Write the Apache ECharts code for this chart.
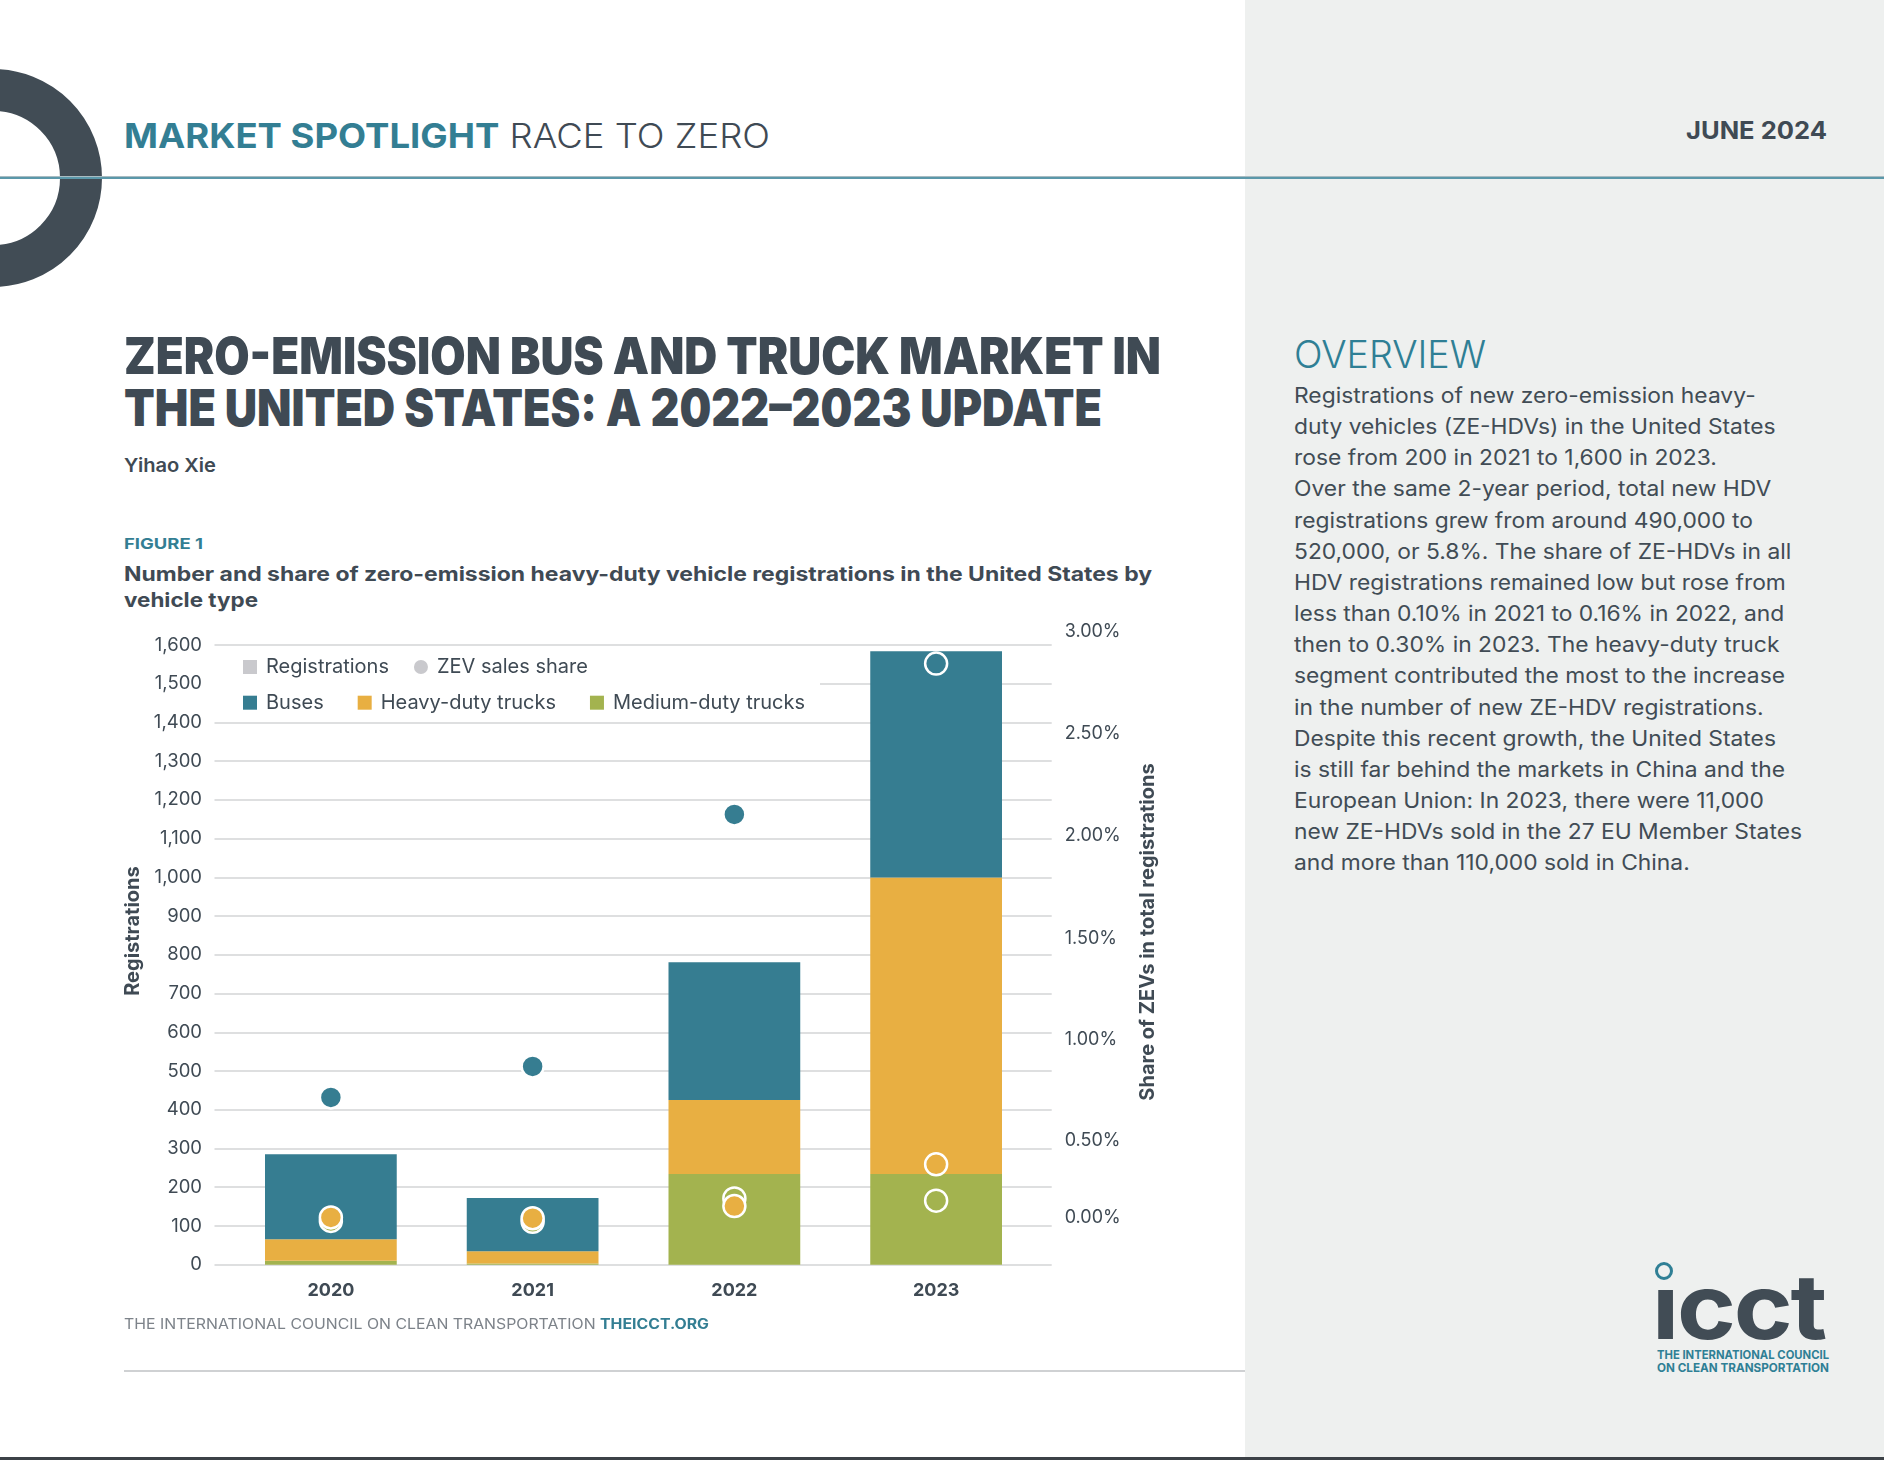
<!DOCTYPE html>
<html><head><meta charset="utf-8">
<script src="https://cdn.jsdelivr.net/npm/echarts/dist/echarts.min.js"></script>
<style>
html,body{margin:0;padding:0;}
body{width:1884px;height:1460px;position:relative;overflow:hidden;background:#fff;font-family:Inter,"Noto Sans",sans-serif;color:#3f4a54;}
.t{position:absolute;white-space:nowrap;transform-origin:left center;}
#panel{position:absolute;left:1245px;top:0;width:639px;height:1460px;background:#eef0ef;}
#ring{position:absolute;left:-116px;top:69px;width:218px;height:218px;box-sizing:border-box;border:42px solid #414c55;border-radius:50%;}
#rule{position:absolute;left:0;top:176px;width:1884px;height:1px;background:#a9bcc2;}
#rule2{position:absolute;left:0;top:177px;width:1884px;height:2px;background:#5b98aa;}
#chart{position:absolute;left:0;top:620px;width:1245px;height:700px;}
#bottomrule{position:absolute;left:124px;top:1370px;width:1121px;height:2px;background:#cfd1d3;}
#edge{position:absolute;left:0;top:1457px;width:1884px;height:3px;background:#3c4147;}
#para{position:absolute;left:1294px;top:380px;font-size:21px;line-height:31.16px;color:#414c55;transform-origin:left top;}
#para div{white-space:nowrap;}
#imask{position:absolute;left:1650px;top:1250px;width:28px;height:40px;background:#eef0ef;}
#idot{position:absolute;left:1655px;top:1262px;width:18px;height:18px;box-sizing:border-box;border:3.5px solid #2f7f95;border-radius:50%;}
</style></head>
<body>
<div id="panel"></div>
<div id="ring"></div>
<div id="rule"></div>
<div id="rule2"></div>

<div class="t" data-w="646" style="left:124px;top:116px;font-size:34px;line-height:40px;"><span style="font-weight:700;color:#337e93;">MARKET SPOTLIGHT</span><span style="font-weight:300;color:#3f4a54;"> RACE TO ZERO</span></div>
<div class="t" data-w="141" style="left:1686px;top:116px;font-size:24px;line-height:30px;font-weight:700;color:#3f4a54;">JUNE 2024</div>

<div class="t" data-w="1037" style="left:124px;top:326px;font-size:51px;line-height:60px;font-weight:900;color:#3f4a54;">ZERO-EMISSION BUS AND TRUCK MARKET IN</div>
<div class="t" data-w="978" style="left:124px;top:378px;font-size:51px;line-height:60px;font-weight:900;color:#3f4a54;">THE UNITED STATES: A 2022–2023 UPDATE</div>

<div class="t" data-w="92" style="left:124px;top:453px;font-size:19px;line-height:26px;font-weight:600;color:#3f4a54;">Yihao Xie</div>
<div class="t" data-w="79" style="left:124px;top:533px;font-size:15px;line-height:22px;font-weight:700;color:#337e93;">FIGURE 1</div>
<div class="t" data-w="1028" style="left:124px;top:561px;font-size:20px;line-height:26px;font-weight:700;color:#3f4a54;">Number and share of zero-emission heavy-duty vehicle registrations in the United States by</div>
<div class="t" data-w="134" style="left:124px;top:587px;font-size:20px;line-height:26px;font-weight:700;color:#3f4a54;">vehicle type</div>

<div id="chart"></div>

<div class="t" data-w="585" style="left:124px;top:1314px;font-size:14px;line-height:20px;"><span style="color:#7d838a;font-weight:400;">THE INTERNATIONAL COUNCIL ON CLEAN TRANSPORTATION </span><span style="color:#337e93;font-weight:700;">THEICCT.ORG</span></div>
<div id="bottomrule"></div>

<div class="t" data-w="192" style="left:1294px;top:331px;font-size:38px;line-height:46px;font-weight:300;color:#2f7f95;">OVERVIEW</div>
<div id="para">
<div>Registrations of new zero-emission heavy-</div>
<div>duty vehicles (ZE-HDVs) in the United States</div>
<div>rose from 200 in 2021 to 1,600 in 2023.</div>
<div>Over the same 2-year period, total new HDV</div>
<div>registrations grew from around 490,000 to</div>
<div>520,000, or 5.8%. The share of ZE-HDVs in all</div>
<div>HDV registrations remained low but rose from</div>
<div>less than 0.10% in 2021 to 0.16% in 2022, and</div>
<div>then to 0.30% in 2023. The heavy-duty truck</div>
<div>segment contributed the most to the increase</div>
<div>in the number of new ZE-HDV registrations.</div>
<div>Despite this recent growth, the United States</div>
<div>is still far behind the markets in China and the</div>
<div>European Union: In 2023, there were 11,000</div>
<div id="pline">new ZE-HDVs sold in the 27 EU Member States</div>
<div>and more than 110,000 sold in China.</div>
</div>

<div class="t" data-w="173" style="left:1652px;top:1262px;font-size:90px;line-height:90px;font-weight:700;color:#414c55;letter-spacing:-2px;">icct</div>
<div id="imask"></div>
<div id="idot"></div>
<div class="t" data-w="172" style="left:1657px;top:1347px;font-size:12px;line-height:16px;font-weight:700;color:#2f7f95;">THE INTERNATIONAL COUNCIL</div>
<div class="t" data-w="172" style="left:1657px;top:1360px;font-size:12px;line-height:16px;font-weight:700;color:#2f7f95;">ON CLEAN TRANSPORTATION</div>
<div id="edge"></div>

<script>
// ---- data ----
const years = ['2020', '2021', '2022', '2023'];
const buses = [219, 137, 356, 584];
const heavyTrucks = [56, 32, 191, 766];
const mediumTrucks = [10, 3, 234, 234];
const busShare = [0.81, 0.96, 2.18, 2.91];
const heavyShare = [0.229, 0.225, 0.284, 0.486];
const mediumShare = [0.212, 0.208, 0.321, 0.31];
const legendRow1 = ['Registrations', 'ZEV sales share'];
const legendRow2 = ['Buses', 'Heavy-duty trucks', 'Medium-duty trucks'];

// ---- fit text widths ----
document.querySelectorAll('[data-w]').forEach(el => {
  const w = el.getBoundingClientRect().width;
  el.style.transform = 'scaleX(' + (+el.dataset.w / w) + ')';
});
(function(){
  const p = document.getElementById('pline');
  const span = document.createElement('span'); span.textContent = p.textContent; p.textContent = ''; p.appendChild(span);
  const ww = span.getBoundingClientRect().width;
  document.getElementById('para').style.transform = 'scaleX(' + (508 / ww) + ')';
})();

// ---- chart ----
const FONT = 'Inter, "Noto Sans", sans-serif';
const INK = '#3f4a54';
const C_BUS = '#367d91', C_HDT = '#e8af42', C_MDT = '#a3b34f', C_REG = '#c9c9cd';
const rightLift = {'3.00': 13, '2.50': 14.5, '2.00': 16, '1.50': 16.5, '1.00': 19, '0.50': 21, '0.00': 47.5};
const liftKeys = Object.keys(rightLift);
const rich = {};
liftKeys.forEach((k, i) => { rich['r' + i] = {padding: [0, 0, 2 * rightLift[k], 0], fontSize: 18, color: INK, fontFamily: FONT}; });

const chart = echarts.init(document.getElementById('chart'));
const dotStyle = c => ({color: c, opacity: 1, borderColor: '#ffffff', borderWidth: 2.5});
chart.setOption({
  animation: false,
  textStyle: {fontFamily: FONT, color: INK},
  grid: [
    {left: 214.5, right: 193.3, top: 25, bottom: 55.3},
    {left: 230, right: 208, top: 25, bottom: 55.3}
  ],
  xAxis: [
    {type: 'category', gridIndex: 0, data: years, show: false},
    {type: 'category', gridIndex: 1, data: years, axisLine: {show: false}, axisTick: {show: false}, splitLine: {show: false},
     axisLabel: {margin: 17, fontSize: 18, fontWeight: 'bold', color: INK, fontFamily: FONT}}
  ],
  yAxis: [
    {type: 'value', gridIndex: 0, min: 0, max: 1600, interval: 100, axisLine: {show: false}, axisTick: {show: false},
     axisLabel: {margin: 12.5, fontSize: 18.5, color: INK, fontFamily: FONT, formatter: v => v.toLocaleString('en-US')},
     splitLine: {show: true, lineStyle: {color: '#d3d4d6', width: 1.5}}},
    {type: 'value', gridIndex: 0, position: 'right', min: 0, max: 3, interval: 0.5, axisLine: {show: false}, axisTick: {show: false},
     splitLine: {show: false},
     axisLabel: {margin: 13, verticalAlign: 'middle', fontSize: 18, color: INK, fontFamily: FONT, rich: rich,
       formatter: v => { const s = v.toFixed(2); const i = liftKeys.indexOf(s); return '{r' + i + '|' + s + '%}'; }}},
    {type: 'value', gridIndex: 1, min: 0, max: 1600, show: false},
    {type: 'value', gridIndex: 1, min: 0, max: 3, show: false}
  ],
  legend: [
    {left: 243, top: 37, padding: 0, itemWidth: 14, itemHeight: 14, itemGap: 25, selectedMode: false, z: 20,
     data: legendRow1.map((n, i) => ({name: n, icon: i === 0 ? 'rect' : 'circle'})),
     textStyle: {fontSize: 20, color: INK, fontFamily: FONT, padding: [0, 0, 0, 4]}},
    {left: 243, top: 72.7, padding: 0, itemWidth: 14, itemHeight: 14, itemGap: 34, selectedMode: false, z: 20,
     data: legendRow2.map(n => ({name: n, icon: 'rect'})),
     textStyle: {fontSize: 20, color: INK, fontFamily: FONT, padding: [0, 0, 0, 4]}}
  ],
  graphic: [
    {type: 'rect', z: 1, silent: true, shape: {x: 214, y: 30, width: 606, height: 66}, style: {fill: '#ffffff'}},
    {type: 'text', x: 133, y: 311, rotation: Math.PI / 2, silent: true,
     style: {text: 'Registrations', fill: INK, font: 'bold 20px ' + FONT, align: 'center', verticalAlign: 'middle'}},
    {type: 'text', x: 1147.5, y: 312, rotation: Math.PI / 2, silent: true,
     style: {text: 'Share of ZEVs in total registrations', fill: INK, font: 'bold 20px ' + FONT, align: 'center', verticalAlign: 'middle'}}
  ],
  series: [
    {name: 'Registrations', type: 'line', xAxisIndex: 1, yAxisIndex: 2, data: [], itemStyle: {color: C_REG}, lineStyle: {color: C_REG}},
    {name: 'ZEV sales share', type: 'scatter', xAxisIndex: 1, yAxisIndex: 3, data: [], itemStyle: {color: C_REG, opacity: 1}},
    {name: 'Medium-duty trucks', type: 'bar', stack: 'reg', xAxisIndex: 1, yAxisIndex: 2, barWidth: '65.3%', data: mediumTrucks, itemStyle: {color: C_MDT}},
    {name: 'Heavy-duty trucks', type: 'bar', stack: 'reg', xAxisIndex: 1, yAxisIndex: 2, barWidth: '65.3%', data: heavyTrucks, itemStyle: {color: C_HDT}},
    {name: 'Buses', type: 'bar', stack: 'reg', xAxisIndex: 1, yAxisIndex: 2, barWidth: '65.3%', data: buses, itemStyle: {color: C_BUS}},
    {name: 'Medium-duty share', type: 'scatter', xAxisIndex: 1, yAxisIndex: 3, z: 5, symbolSize: 22, data: mediumShare, itemStyle: dotStyle(C_MDT)},
    {name: 'Heavy-duty share', type: 'scatter', xAxisIndex: 1, yAxisIndex: 3, z: 6, symbolSize: 22, data: heavyShare, itemStyle: dotStyle(C_HDT)},
    {name: 'Bus share', type: 'scatter', xAxisIndex: 1, yAxisIndex: 3, z: 7, symbolSize: 22, data: busShare, itemStyle: dotStyle(C_BUS)}
  ]
});
</script>
</body></html>
